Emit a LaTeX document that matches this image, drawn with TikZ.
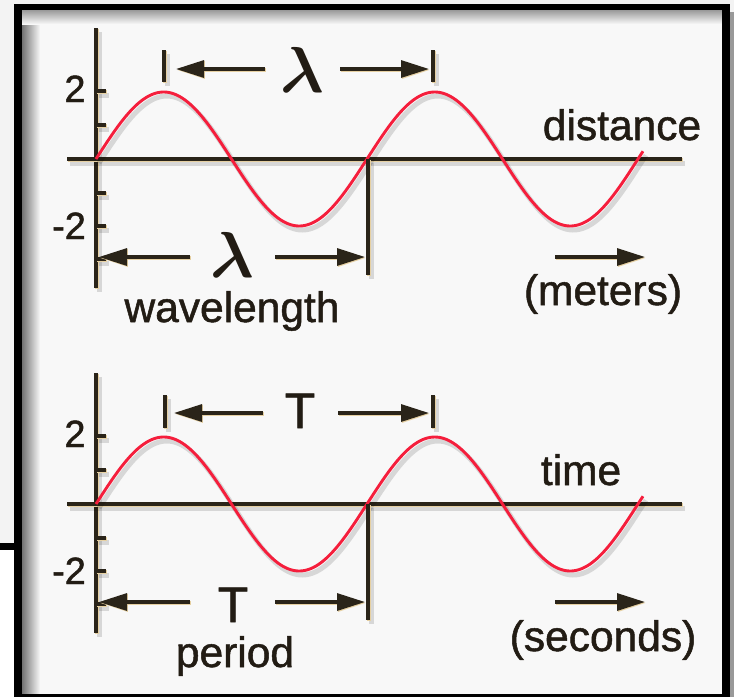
\documentclass[tikz,border=0pt]{standalone}
\usepackage{fontspec}
\setmainfont{Liberation Sans}[FakeBold=1.2]
\usetikzlibrary{arrows.meta}
\definecolor{axcol}{HTML}{2A2419}
\definecolor{tanglow}{HTML}{E6D0A2}
\definecolor{wavered}{HTML}{F51E3C}
\definecolor{txtcol}{HTML}{221C14}
\definecolor{bgcol}{HTML}{F8F8F8}
\definecolor{outbg}{HTML}{F3F3F3}
\begin{document}
\begin{tikzpicture}[x=1pt,y=-1pt,
  shadowed/.style={preaction={draw=black,opacity=0.13,line width=5pt,transform canvas={shift={(3pt,-4pt)}}}},
  axisline/.style={draw=axcol,line width=3.1pt,shadowed,
     preaction={draw=tanglow,line width=3.8pt,transform canvas={shift={(0.9pt,-0.9pt)}}}},
  wave/.style={draw=wavered,line width=2.9pt,shadowed},
  dimarrow/.style={draw=axcol,line width=3.1pt,-{Triangle[length=28pt,width=17pt]},
     preaction={draw=tanglow,line width=3.8pt,transform canvas={shift={(0.9pt,-0.9pt)}}}},
  txt/.style={inner sep=0pt,text=txtcol,font=\fontsize{42.5}{48}\selectfont},
  lbl/.style={inner sep=0pt,text=txtcol,font=\fontsize{38}{42}\selectfont},
  bigT/.style={inner sep=0pt,text=txtcol,font=\fontsize{50}{56}\selectfont},
  lam/.style={inner sep=0pt,text=txtcol}]
\useasboundingbox (0,0) rectangle (734,697);
% ---- frame and background ----
\fill[outbg] (0,0) rectangle (734,697);
\fill[white] (0,550) rectangle (14,697);
\fill[bgcol] (22,10) rectangle (722,694);
\shade[left color=black!55,right color=bgcol] (22,10) rectangle (40,694);
\shade[top color=black!40,bottom color=bgcol] (22,10) rectangle (722,24);
\fill[black!40] (730,12) rectangle (734,697);
\fill[black] (14,4) rectangle (730,10);
\fill[black] (14,4) rectangle (22,697);
\fill[black] (722,4) rectangle (730,697);
\fill[black] (14,694) rectangle (730,697);
\fill[black] (0,543) rectangle (14,550);

% ================= top graph (distance) =================
\coordinate (yA1) at (96,28);  \coordinate (yA2) at (96,288);
\coordinate (xA1) at (67,159); \coordinate (xA2) at (682,159);
\draw[axisline] (yA1) -- (yA2);
\draw[axisline] (xA1) -- (xA2);
\foreach \t in {91,125,193,226,259} \draw[axisline] (96,\t) -- (106,\t);
\draw[wave] plot[domain=0:547,samples=240,smooth] ({96+\x},{159-67*sin(1.32841*\x)});
\coordinate (vA1) at (368,159); \coordinate (vA2) at (368,275);
\draw[axisline] (vA1) -- (vA2);
\coordinate (bA1t) at (164,50); \coordinate (bA1b) at (164,82);
\coordinate (bA2t) at (433,50); \coordinate (bA2b) at (433,82);
\draw[axisline] (bA1t) -- (bA1b);
\draw[axisline] (bA2t) -- (bA2b);
\coordinate (aA1s) at (265,69); \coordinate (aA1e) at (176,69);
\coordinate (aA2s) at (340,69); \coordinate (aA2e) at (429,69);
\draw[dimarrow] (aA1s) -- (aA1e);
\draw[dimarrow] (aA2s) -- (aA2e);
\coordinate (aA3s) at (190,257); \coordinate (aA3e) at (99,257);
\coordinate (aA4s) at (275,257); \coordinate (aA4e) at (365,257);
\draw[dimarrow] (aA3s) -- (aA3e);
\draw[dimarrow] (aA4s) -- (aA4e);
\coordinate (uA1) at (555,257); \coordinate (uA2) at (645,257);
\draw[dimarrow] (uA1) -- (uA2);
\node[lbl,anchor=base] (twoA) at (75,102) {2};
\node[lbl,anchor=base] (mtwoA) at (69,239) {-2};
\node[lam] (lamA1) at (302,70) {\scalebox{6.5}{\boldmath$\lambda$}};
\node[lam] (lamA2) at (232,255) {\scalebox{6.5}{\boldmath$\lambda$}};
\node[txt,anchor=base] (distA) at (622,140) {distance};
\node[txt,anchor=base] (unitA) at (603,305) {(meters)};
\node[txt,anchor=base] (nameA) at (232,322) {wavelength};

% ================= bottom graph (time) =================
\begin{scope}[shift={(0,345)}]
\coordinate (yB1) at (96,28);  \coordinate (yB2) at (96,288);
\coordinate (xB1) at (67,159); \coordinate (xB2) at (682,159);
\draw[axisline] (yB1) -- (yB2);
\draw[axisline] (xB1) -- (xB2);
\foreach \t in {91,125,193,226,259} \draw[axisline] (96,\t) -- (106,\t);
\draw[wave] plot[domain=0:547,samples=240,smooth] ({96+\x},{159-67*sin(1.32841*\x)});
\coordinate (vB1) at (368,159); \coordinate (vB2) at (368,275);
\draw[axisline] (vB1) -- (vB2);
\coordinate (bB1t) at (165,50); \coordinate (bB1b) at (165,83);
\coordinate (bB2t) at (433,50); \coordinate (bB2b) at (433,83);
\draw[axisline] (bB1t) -- (bB1b);
\draw[axisline] (bB2t) -- (bB2b);
\coordinate (aB1s) at (263,68); \coordinate (aB1e) at (174,68);
\coordinate (aB2s) at (338,68); \coordinate (aB2e) at (429,68);
\draw[dimarrow] (aB1s) -- (aB1e);
\draw[dimarrow] (aB2s) -- (aB2e);
\coordinate (aB3s) at (190,257); \coordinate (aB3e) at (99,257);
\coordinate (aB4s) at (275,257); \coordinate (aB4e) at (365,257);
\draw[dimarrow] (aB3s) -- (aB3e);
\draw[dimarrow] (aB4s) -- (aB4e);
\coordinate (uB1) at (555,257); \coordinate (uB2) at (645,257);
\draw[dimarrow] (uB1) -- (uB2);
\node[lbl,anchor=base] (twoB) at (75,102) {2};
\node[lbl,anchor=base] (mtwoB) at (69,239) {-2};
\node[bigT,anchor=base] (TB1) at (300,83) {T};
\node[bigT,anchor=base] (TB2) at (233,277) {T};
\node[txt,anchor=base] (timeB) at (581,140) {time};
\node[txt,anchor=base] (unitB) at (603,306) {(seconds)};
\node[txt,anchor=base] (nameB) at (235,322) {period};
\end{scope}
\end{tikzpicture}
\end{document}
